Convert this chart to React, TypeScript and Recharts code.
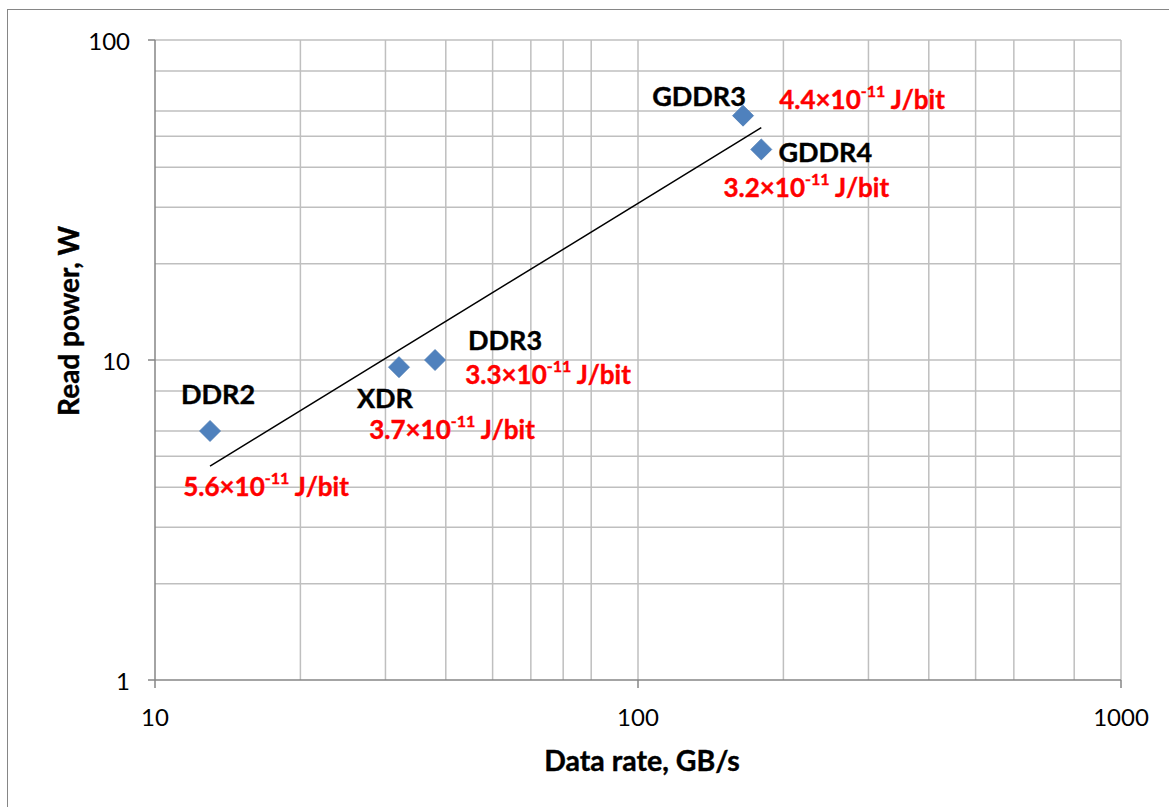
import React from 'react';
import { ScatterChart, Scatter, XAxis, YAxis, CartesianGrid } from 'recharts';

// Memory interfaces: peak data rate vs. read power
const memoryTypes = ['DDR2', 'XDR', 'DDR3', 'GDDR3', 'GDDR4'];
const dataRatesGBs = [13.0, 32, 38, 165, 180];
const readPowerW = [6.0, 9.5, 10.0, 58, 45.5];
const energyMantissa = ['5.6', '3.7', '3.3', '4.4', '3.2'];
const energyExponent = '-11';

// Power-law trend line end points
const trendRatesGBs = [13.0, 180];
const trendPowerW = [4.66, 53.2];

const xTicks = [10, 100, 1000];
const yTicks = [1, 10, 100];
const xGridValues = [20, 30, 40, 50, 60, 70, 80, 90, 100, 200, 300, 400, 500, 600, 700, 800, 900, 1000];
const yGridValues = [2, 3, 4, 5, 6, 7, 8, 9, 10, 20, 30, 40, 50, 60, 70, 80, 90, 100];

const points = memoryTypes.map((name, i) => ({
  name,
  rate: dataRatesGBs[i],
  power: readPowerW[i],
  energy: energyMantissa[i],
}));
const trend = trendRatesGBs.map((rate, i) => ({ rate, power: trendPowerW[i] }));

const FONT = 'Lato, "Open Sans", sans-serif';
const AXIS_GREY = '#868686';
const GRID_GREY = '#bfbfbf';
const MARKER = '#4f81bd';

const PLOT_BOTTOM = 680;

// label centres relative to each marker: [dx, dy]
const labelPlacement: Record<string, { name: [number, number]; energy: [number, number] }> = {
  DDR2: { name: [8, -37], energy: [56, 55] },
  XDR: { name: [-14, 30], energy: [53, 62] },
  DDR3: { name: [70, -21], energy: [113, 14] },
  GDDR3: { name: [-44, -20], energy: [119, -17] },
  GDDR4: { name: [64, 2], energy: [45, 38] },
};

const DiamondWithLabels = (props: any) => {
  const { cx, cy, payload } = props;
  if (cx == null || cy == null) return <g />;
  const r = 10.5;
  const place = labelPlacement[payload.name];
  return (
    <g>
      <polygon
        points={`${cx},${cy - r} ${cx + r},${cy} ${cx},${cy + r} ${cx - r},${cy}`}
        fill={MARKER}
        stroke="#4a7ab3"
        strokeWidth={0.8}
      />
      <text
        x={cx + place.name[0]}
        y={cy + place.name[1]}
        textAnchor="middle"
        dominantBaseline="central"
        fontFamily={FONT}
        fontWeight={700}
        fontSize={27}
        fill="#000"
        stroke="#000"
        strokeWidth={0.4}
      >
        {payload.name}
      </text>
      <text
        x={cx + place.energy[0]}
        y={cy + place.energy[1]}
        textAnchor="middle"
        dominantBaseline="central"
        fontFamily={FONT}
        fontWeight={700}
        fontSize={26}
        fill="#ff0000"
        stroke="#ff0000"
        strokeWidth={0.4}
      >
        <tspan>{`${payload.energy}×10`}</tspan>
        <tspan dy={-9} fontSize={16}>{energyExponent}</tspan>
        <tspan dy={9}>{' J/bit'}</tspan>
      </text>
    </g>
  );
};

const XTick = (props: any) => {
  const { x, payload } = props;
  return (
    <text
      x={x}
      y={PLOT_BOTTOM + 36}
      textAnchor="middle"
      dominantBaseline="central"
      fontFamily={FONT}
      fontSize={24}
      fill="#000"
    >
      {payload.value}
    </text>
  );
};

const YTick = (props: any) => {
  const { y, payload } = props;
  return (
    <text
      x={130}
      y={y}
      textAnchor="end"
      dominantBaseline="central"
      fontFamily={FONT}
      fontSize={24}
      fill="#000"
    >
      {payload.value}
    </text>
  );
};

const XTitle = (props: any) => {
  const { viewBox } = props;
  return (
    <text
      x={viewBox.x + viewBox.width / 2 + 4}
      y={viewBox.y + 80}
      textAnchor="middle"
      dominantBaseline="central"
      fontFamily={FONT}
      fontWeight={700}
      fontSize={28.5}
      fill="#000"
      stroke="#000"
      strokeWidth={0.4}
    >
      Data rate, GB/s
    </text>
  );
};

const YTitle = () => (
  <text
    x={68}
    y={321}
    transform="rotate(-90 68 321)"
    textAnchor="middle"
    dominantBaseline="central"
    fontFamily={FONT}
    fontWeight={700}
    fontSize={28}
    fill="#000"
    stroke="#000"
    strokeWidth={0.4}
  >
    Read power, W
  </text>
);

export default function App() {
  return (
    <div
      style={{
        position: 'absolute',
        left: 0,
        top: 0,
        width: 1169,
        height: 807,
        overflow: 'hidden',
        background: '#fff',
      }}
    >
      <div
        style={{
          position: 'absolute',
          left: 7,
          top: 9,
          width: 1300,
          height: 1000,
          border: `1.5px solid ${AXIS_GREY}`,
          boxSizing: 'border-box',
        }}
      />
      <div style={{ position: 'absolute', left: 0, top: 0 }}>
        <ScatterChart width={1169} height={807} margin={{ top: 40, right: 48, bottom: 0, left: 0 }}>
          <CartesianGrid
            stroke={GRID_GREY}
            strokeWidth={1.5}
            horizontalValues={yGridValues}
            verticalValues={xGridValues}
          />
          <XAxis
            type="number"
            dataKey="rate"
            scale="log"
            domain={[10, 1000]}
            ticks={xTicks}
            allowDataOverflow
            height={127}
            tickSize={8}
            tick={<XTick />}
            axisLine={{ stroke: AXIS_GREY, strokeWidth: 1.5 }}
            tickLine={{ stroke: AXIS_GREY, strokeWidth: 1.5 }}
            label={<XTitle />}
          />
          <YAxis
            type="number"
            dataKey="power"
            scale="log"
            domain={[1, 100]}
            ticks={yTicks}
            allowDataOverflow
            width={155}
            tickSize={7}
            tick={<YTick />}
            axisLine={{ stroke: AXIS_GREY, strokeWidth: 1.5 }}
            tickLine={{ stroke: AXIS_GREY, strokeWidth: 1.5 }}
            label={<YTitle />}
          />
          <Scatter
            data={trend}
            line={{ stroke: '#000', strokeWidth: 1.5 }}
            shape={() => <g />}
            isAnimationActive={false}
          />
          <Scatter data={points} shape={DiamondWithLabels} isAnimationActive={false} />
        </ScatterChart>
      </div>
    </div>
  );
}
